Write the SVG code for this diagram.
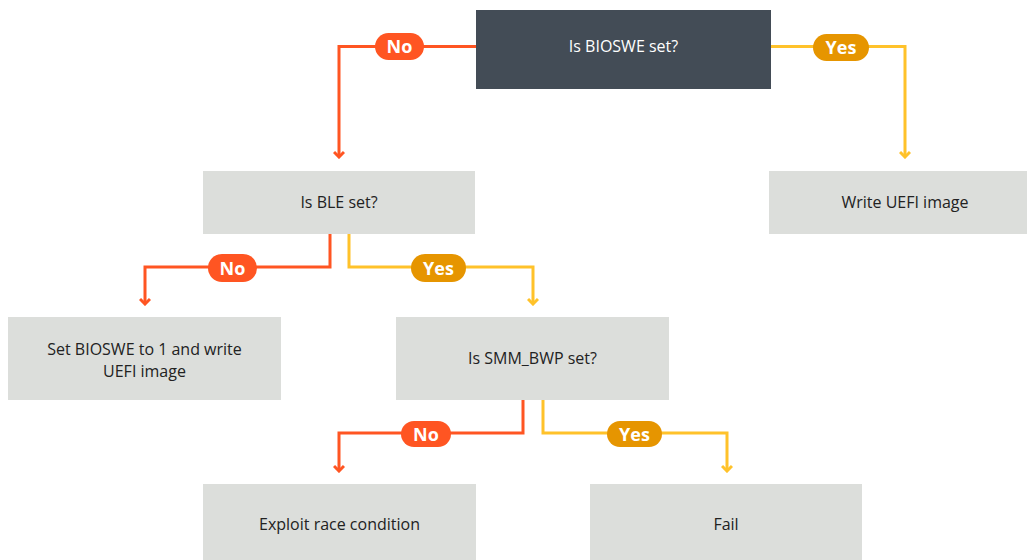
<svg xmlns="http://www.w3.org/2000/svg" width="1027" height="560" viewBox="0 0 1027 560">
<style>
.box{fill:#dcdedb}
.dark{fill:#434c56}
.t{font-family:"Open Sans","Liberation Sans",sans-serif;font-size:16px;fill:#222;text-anchor:middle}
.tw{font-family:"Open Sans","Liberation Sans",sans-serif;font-size:16px;fill:#fff;text-anchor:middle}
.no{stroke:#ff5522;stroke-width:3;fill:none}
.yes{stroke:#ffc22a;stroke-width:3;fill:none}
.pno{fill:#ff5522}
.pyes{fill:#e69500}
.pl{font-family:"Open Sans","Liberation Sans",sans-serif;font-size:18px;font-weight:bold;fill:#fff;text-anchor:middle}
</style>
<defs>
<marker id="an" viewBox="0 0 10 12" refX="8" refY="6" markerWidth="10" markerHeight="12" markerUnits="userSpaceOnUse" orient="auto">
<path d="M3,1 L8,6 L3,11" fill="none" stroke="#ff5522" stroke-width="3"/>
</marker>
<marker id="ay" viewBox="0 0 10 12" refX="8" refY="6" markerWidth="10" markerHeight="12" markerUnits="userSpaceOnUse" orient="auto">
<path d="M3,1 L8,6 L3,11" fill="none" stroke="#ffc22a" stroke-width="3"/>
</marker>
</defs>
<g id="connectors">
<path class="no" d="M476,46.5 H339 V157" marker-end="url(#an)"/>
<path class="yes" d="M771,46.5 H905 V157" marker-end="url(#ay)"/>
<path class="no" d="M330,234 V267 H145 V304" marker-end="url(#an)"/>
<path class="yes" d="M349,234 V267 H533 V304" marker-end="url(#ay)"/>
<path class="no" d="M523,400 V433 H339 V471" marker-end="url(#an)"/>
<path class="yes" d="M543,400 V433 H727 V471" marker-end="url(#ay)"/>
<rect class="pno" x="375" y="33" width="49" height="27" rx="13.5"/>
<text class="pl" x="399.5" y="53">No</text>
<rect class="pyes" x="813" y="34" width="56" height="27" rx="13.5"/>
<text class="pl" x="841" y="54">Yes</text>
<rect class="pno" x="208" y="254" width="49" height="28" rx="14"/>
<text class="pl" x="232.5" y="274.5">No</text>
<rect class="pyes" x="411" y="254" width="55" height="28" rx="14"/>
<text class="pl" x="438.5" y="274.5">Yes</text>
<rect class="pno" x="401" y="421" width="50" height="26" rx="13"/>
<text class="pl" x="426" y="440.5">No</text>
<rect class="pyes" x="607" y="421" width="55" height="26" rx="13"/>
<text class="pl" x="634.5" y="440.5">Yes</text>
</g>
<g id="n-bioswe">
<rect class="dark" x="476" y="10" width="295" height="79"/>
<text class="tw" x="623.5" y="52">Is BIOSWE set?</text>
</g>
<g id="n-ble">
<rect class="box" x="203" y="171" width="272" height="63"/>
<text class="t" x="339" y="208">Is BLE set?</text>
</g>
<g id="n-write">
<rect class="box" x="769" y="171" width="258" height="63"/>
<text class="t" x="905" y="208">Write UEFI image</text>
</g>
<g id="n-set">
<rect class="box" x="8" y="317" width="273" height="83"/>
<text class="t" x="144.5" y="355">Set BIOSWE to 1 and write</text>
<text class="t" x="144.5" y="377">UEFI image</text>
</g>
<g id="n-smm">
<rect class="box" x="396" y="317" width="273" height="83"/>
<text class="t" x="532.5" y="364">Is SMM_BWP set?</text>
</g>
<g id="n-exploit">
<rect class="box" x="203" y="484" width="273" height="76"/>
<text class="t" x="339.5" y="530">Exploit race condition</text>
</g>
<g id="n-fail">
<rect class="box" x="590" y="484" width="272" height="76"/>
<text class="t" x="726" y="530">Fail</text>
</g>
</svg>
